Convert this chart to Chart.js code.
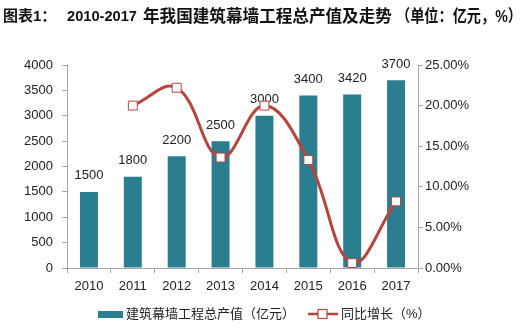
<!DOCTYPE html>
<html>
<head>
<meta charset="utf-8">
<script src="https://cdn.jsdelivr.net/npm/chart.js@4"></script>
<style>
  html, body { margin: 0; padding: 0; background: #fff; }
  canvas { display: block; }
</style>
</head>
<body>
<canvas id="grafico" width="523" height="332"></canvas>
<script>
const anos = ['2010', '2011', '2012', '2013', '2014', '2015', '2016', '2017'];
const valorProducao = [1500, 1800, 2200, 2500, 3000, 3400, 3420, 3700];
const crescimento = [null, 20.0, 22.2, 13.6, 20.0, 13.3, 0.6, 8.2];
const ticksValor = [0, 500, 1000, 1500, 2000, 2500, 3000, 3500, 4000];
const ticksPercent = [0, 5, 10, 15, 20, 25];

// titulo em partes: [texto, x, tamanho da fonte, largura maxima]
const partesTitulo = [
    ['图表1：', 3, 15, 60],
    ['2010-2017', 67, 15, 70],
    ['年我国建筑幕墙工程总产值及走势', 143, 16.6, 252],
    ['（单位：亿元，%）', 396, 16.6, 126]
];
const nomeBarra = '建筑幕墙工程总产值（亿元）';
const nomeLinha = '同比增长（%）';

const corBarra = '#2b7d90';
const corLinha = '#b5453f';
const corEixo = '#a6a6a6';
const fonte = "'Liberation Sans', 'Noto Sans CJK SC', sans-serif";

// rotulos acima das barras (antes da linha ser desenhada)
const rotulosBarras = {
    id: 'rotulosBarras',
    afterDatasetDraw(chart, args) {
        if (args.index !== 0) return;
        const ctx = chart.ctx;
        ctx.save();
        ctx.font = '13px ' + fonte;
        ctx.fillStyle = '#222';
        ctx.textAlign = 'center';
        ctx.textBaseline = 'middle';
        args.meta.data.forEach((barra, i) => {
            ctx.fillText(String(valorProducao[i]), barra.x, barra.y - 16);
        });
        ctx.restore();
    }
};

// titulo e legenda desenhados a mao
const tituloLegenda = {
    id: 'tituloLegenda',
    afterDraw(chart) {
        const ctx = chart.ctx;
        ctx.save();
        ctx.fillStyle = '#111';
        ctx.textBaseline = 'middle';
        ctx.textAlign = 'left';
        partesTitulo.forEach(([texto, x, tam, largura]) => {
            ctx.font = `bold ${tam}px ` + fonte;
            ctx.fillText(texto, x, 17, largura);
        });

        const y = 314;
        ctx.font = '13px ' + fonte;
        ctx.fillStyle = corBarra;
        ctx.fillRect(98, y - 3, 25, 7);
        ctx.fillStyle = '#222';
        ctx.fillText(nomeBarra, 126, y);

        ctx.strokeStyle = corLinha;
        ctx.lineWidth = 2.5;
        ctx.beginPath();
        ctx.moveTo(308, y);
        ctx.lineTo(338, y);
        ctx.stroke();
        ctx.fillStyle = '#fff';
        ctx.lineWidth = 1.2;
        ctx.fillRect(318, y - 4.5, 9, 9);
        ctx.strokeRect(318, y - 4.5, 9, 9);
        ctx.fillStyle = '#222';
        ctx.fillText(nomeLinha, 341, y);
        ctx.restore();
    }
};

const grade = {
    display: true,
    drawOnChartArea: false,
    drawTicks: true,
    tickLength: 5,
    color: corEixo
};

new Chart(document.getElementById('grafico'), {
    data: {
        labels: anos,
        datasets: [
            {
                type: 'bar',
                label: nomeBarra,
                data: valorProducao,
                backgroundColor: corBarra,
                yAxisID: 'y',
                barPercentage: 0.41,
                categoryPercentage: 1,
                order: 2
            },
            {
                type: 'line',
                label: nomeLinha,
                data: crescimento,
                borderColor: corLinha,
                borderWidth: 3,
                tension: 0.4,
                pointStyle: 'rect',
                pointRadius: 6.3,
                pointBackgroundColor: '#fff',
                pointBorderColor: corLinha,
                pointBorderWidth: 1,
                yAxisID: 'y1',
                order: 1
            }
        ]
    },
    options: {
        responsive: false,
        animation: false,
        devicePixelRatio: 1,
        layout: { padding: { top: 65, left: 0, right: 0, bottom: 0 } },
        plugins: {
            legend: { display: false },
            title: { display: false },
            tooltip: { enabled: false }
        },
        scales: {
            x: {
                offset: true,
                grid: { ...grade, offset: true },
                border: { color: corEixo },
                ticks: {
                    color: '#222',
                    font: { size: 13, family: fonte },
                    padding: 6,
                    maxRotation: 0,
                    autoSkip: false
                },
                afterFit: s => { s.height = 64; }
            },
            y: {
                position: 'left',
                min: 0,
                max: 4000,
                afterBuildTicks: s => { s.ticks = ticksValor.map(v => ({ value: v })); },
                grid: grade,
                border: { color: corEixo },
                ticks: {
                    color: '#222',
                    font: { size: 13, family: fonte },
                    padding: 9,
                    callback: v => String(v)
                },
                afterFit: s => { s.width = 67; }
            },
            y1: {
                position: 'right',
                min: 0,
                max: 25,
                afterBuildTicks: s => { s.ticks = ticksPercent.map(v => ({ value: v })); },
                grid: grade,
                border: { color: corEixo },
                ticks: {
                    color: '#222',
                    font: { size: 13, family: fonte },
                    padding: 2,
                    callback: v => v.toFixed(2) + '%'
                },
                afterFit: s => { s.width = 105; }
            }
        }
    },
    plugins: [rotulosBarras, tituloLegenda]
});
</script>
</body>
</html>
